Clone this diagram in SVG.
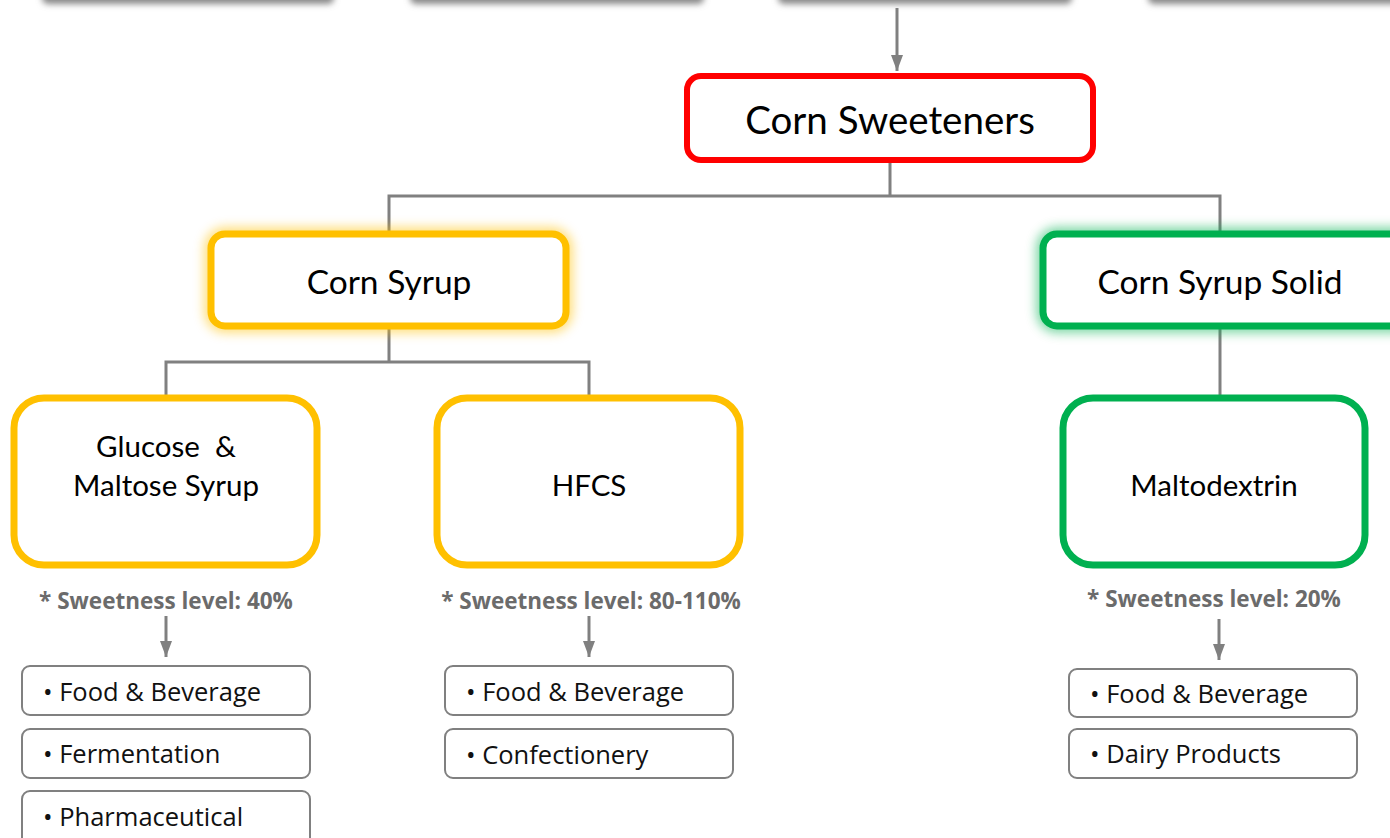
<svg xmlns="http://www.w3.org/2000/svg" width="1390" height="838" viewBox="0 0 1390 838">
<defs>
<style>
.t{font-family:Lato,"Noto Sans",sans-serif;fill:#000;text-anchor:middle}
.big{font-size:38.5px}
.mid{font-size:33.5px}
.nd{font-size:29.5px}
.sw{font-family:"Open Sans","Noto Sans",sans-serif;font-weight:bold;font-size:22.5px;fill:#6b6b6b;text-anchor:middle}
.it{font-family:"Open Sans","Noto Sans",sans-serif;font-size:25.5px;fill:#111}
.box{fill:#fff;stroke:#808080;stroke-width:2}
.ln{fill:none;stroke:#808080;stroke-width:3}
.y{fill:#fff;stroke:#FFC000;stroke-width:7}
.g{fill:#fff;stroke:#00B050;stroke-width:7}
</style>
<filter id="glow" x="-20%" y="-40%" width="140%" height="180%"><feGaussianBlur stdDeviation="6"/></filter>
<filter id="sh" x="-10%" y="-50%" width="120%" height="200%"><feGaussianBlur stdDeviation="3"/></filter>
<marker id="ah" viewBox="0 0 12 16" refX="6" refY="16" markerWidth="12" markerHeight="16" markerUnits="userSpaceOnUse"><path d="M0,0 L12,0 L6,16 Z" fill="#808080"/></marker>
</defs>
<rect width="1390" height="838" fill="#fff"/>
<g id="top-shadows">
<rect x="42" y="-30" width="292" height="34" rx="6" fill="#888" filter="url(#sh)"/>
<rect x="410" y="-30" width="294" height="34" rx="6" fill="#888" filter="url(#sh)"/>
<rect x="778" y="-30" width="294" height="34" rx="6" fill="#888" filter="url(#sh)"/>
<rect x="1148" y="-30" width="260" height="34" rx="6" fill="#888" filter="url(#sh)"/>
</g>
<g id="connectors">
<line class="ln" x1="897" y1="8" x2="897" y2="71" marker-end="url(#ah)"/>
<path class="ln" d="M890,161 V196 M389,196 H1220 M389,194.5 V233 M1220,194.5 V233"/>
<path class="ln" d="M389,327 V362 M166,362 H589 M166,360.5 V397 M589,360.5 V397"/>
<path class="ln" d="M1220,327 V397"/>
<line class="ln" x1="166" y1="616" x2="166" y2="657" marker-end="url(#ah)"/>
<line class="ln" x1="589" y1="616" x2="589" y2="657" marker-end="url(#ah)"/>
<line class="ln" x1="1219" y1="619" x2="1219" y2="660" marker-end="url(#ah)"/>
</g>
<g id="corn-sweeteners">
<rect x="687" y="76" width="406" height="84" rx="14" fill="#fff" stroke="#FF0000" stroke-width="6"/>
<text class="t big" x="890" y="134">Corn Sweeteners</text>
</g>
<g id="corn-syrup">
<rect x="211" y="234" width="355" height="92" rx="14" fill="none" stroke="#FFC000" stroke-width="12" opacity="0.6" filter="url(#glow)"/>
<rect class="y" x="211" y="234" width="355" height="92" rx="14"/>
<text class="t mid" x="389" y="294">Corn Syrup</text>
</g>
<g id="corn-syrup-solid">
<rect x="1043" y="234" width="370" height="92" rx="14" fill="none" stroke="#00B050" stroke-width="12" opacity="0.6" filter="url(#glow)"/>
<rect class="g" x="1043" y="234" width="370" height="92" rx="14"/>
<text class="t mid" x="1220" y="294">Corn Syrup Solid</text>
</g>
<g id="glucose">
<rect class="y" x="14" y="398" width="303" height="167" rx="30" stroke-width="6"/>
<text class="t nd" x="166" y="457" xml:space="preserve">Glucose  &amp;</text>
<text class="t nd" x="166" y="496">Maltose Syrup</text>
</g>
<g id="hfcs">
<rect class="y" x="437" y="398" width="303" height="167" rx="30" stroke-width="6"/>
<text class="t nd" x="589" y="496">HFCS</text>
</g>
<g id="maltodextrin">
<rect class="g" x="1063" y="398" width="302" height="167" rx="30" stroke-width="6"/>
<text class="t nd" x="1214" y="496">Maltodextrin</text>
</g>
<g id="sweetness-labels">
<text class="sw" x="166" y="609">* Sweetness level: 40%</text>
<text class="sw" x="591" y="609">* Sweetness level: 80-110%</text>
<text class="sw" x="1214" y="607">* Sweetness level: 20%</text>
</g>
<g id="glucose-uses">
<rect class="box" x="22" y="666" width="288" height="49" rx="8"/>
<text class="it" x="43" y="701">• Food &amp; Beverage</text>
<rect class="box" x="22" y="729" width="288" height="49" rx="8"/>
<text class="it" x="43" y="763">• Fermentation</text>
<rect class="box" x="22" y="791" width="288" height="60" rx="8"/>
<text class="it" x="43" y="826">• Pharmaceutical</text>
</g>
<g id="hfcs-uses">
<rect class="box" x="445" y="666" width="288" height="49" rx="8"/>
<text class="it" x="466" y="701">• Food &amp; Beverage</text>
<rect class="box" x="445" y="729" width="288" height="49" rx="8"/>
<text class="it" x="466" y="764">• Confectionery</text>
</g>
<g id="maltodextrin-uses">
<rect class="box" x="1069" y="669" width="288" height="48" rx="8"/>
<text class="it" x="1090" y="703">• Food &amp; Beverage</text>
<rect class="box" x="1069" y="729" width="288" height="49" rx="8"/>
<text class="it" x="1090" y="763">• Dairy Products</text>
</g>
</svg>
